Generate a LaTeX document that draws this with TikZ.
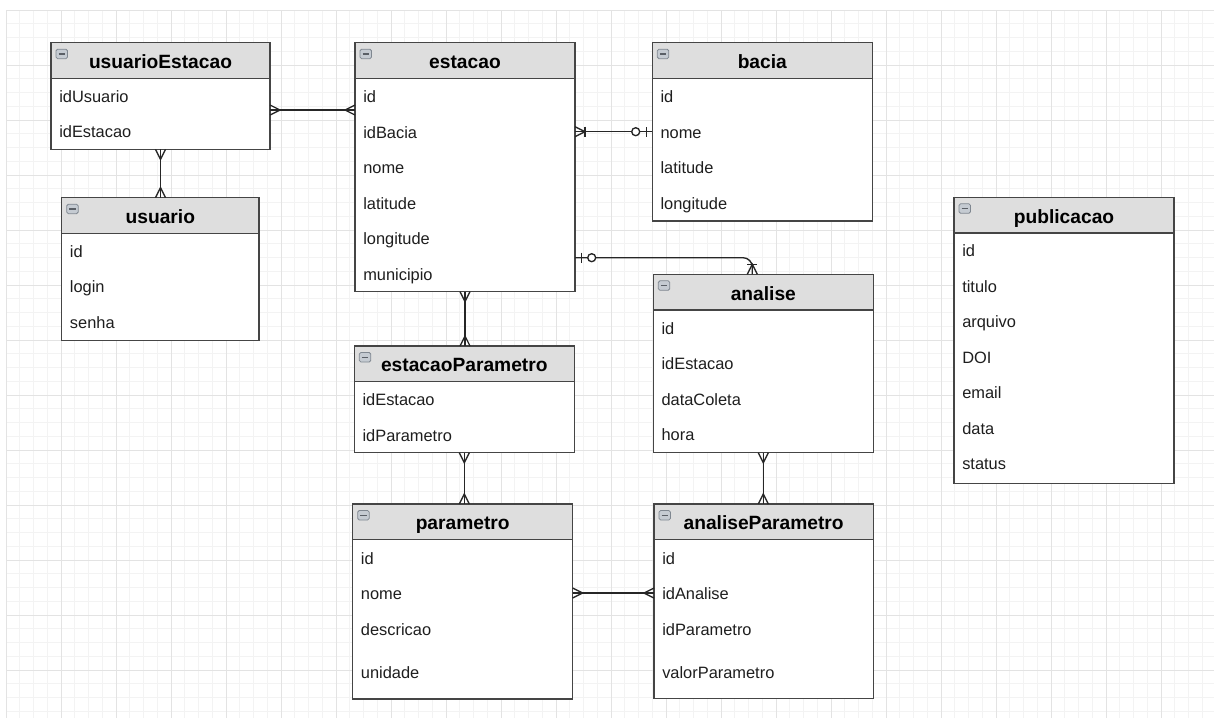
\documentclass[tikz,border=0pt]{standalone}
\usepackage{fontspec}
\setmainfont{Liberation Sans}
\usetikzlibrary{calc}
\definecolor{gridminor}{HTML}{F3F3F3}
\definecolor{gridmajor}{HTML}{E3E3E3}
\definecolor{hdr}{HTML}{DEDEDE}
\definecolor{bord}{HTML}{454545}
\definecolor{iconfill}{HTML}{C5CBD2}
\definecolor{icondraw}{HTML}{7F8790}
\definecolor{iconminus}{HTML}{5A5F66}
\definecolor{txt}{HTML}{1E1E1E}
\definecolor{connc}{HTML}{262626}
\tikzset{
 tblbody/.style={draw=none, fill=white, inner sep=0pt, outer sep=0pt},
 border/.style={draw=bord, line width=1.1pt},
 iconbox/.style={draw=icondraw, fill=iconfill, line width=0.6pt, rounded corners=1.2pt},
 ttl/.style={font=\fontsize{14.4pt}{16pt}\selectfont\bfseries, text=black, inner sep=0pt},
 rowtxt/.style={font=\fontsize{12.3pt}{14pt}\selectfont, text=txt, inner sep=0pt},
 conn/.style={draw=connc, line width=1pt},
 pics/crow/.style={code={\draw[conn] (0,-5) -- (10,0) -- (0,5);}},
 pics/bar/.style={code={\draw[conn] (#1,-5) -- (#1,5);}},
 pics/circ/.style={code={\draw[conn, fill=white] (#1,0) circle (4);}},
}
\newcommand\ertab[6]{%
 \node[tblbody, anchor=north west, minimum width=#4*0.75pt, minimum height=#5*0.75pt] (#1) at (#2,#3) {};
 \fill[hdr] (#1.north west) rectangle ($(#1.north east)+(0,35.6)$);
 \draw[border] ($(#1.north west)+(0,35.6)$) -- ($(#1.north east)+(0,35.6)$);
 \draw[border] (#1.north west) rectangle (#1.south east);
 \draw[iconbox] ($(#1.north west)+(5,6.5)$) rectangle ($(#1.north west)+(16.5,16)$);
 \draw[iconminus, line width=0.9pt] ($(#1.north west)+(7.5,11.2)$) -- ($(#1.north west)+(14,11.2)$);
 \node[ttl, anchor=base] (#1-t) at ($(#1.north)+(0,25.7)$) {#6};
}
\newcommand\errow[4]{\node[rowtxt, anchor=base west] (#1-#2) at ($(#1.north west)+(8,#3)$) {#4};}
\begin{document}
\begin{tikzpicture}[x=0.75pt, y=-0.75pt]
\useasboundingbox (0,0) rectangle (1214,718);
\fill[white] (0,0) rectangle (1214,718);
% grid
\foreach \i in {0,...,87} {\draw[gridminor, line width=0.75pt] ({6+13.75*\i},10) -- ({6+13.75*\i},718);}
\foreach \j in {0,...,51} {\draw[gridminor, line width=0.75pt] (6,{10+13.75*\j}) -- (1214,{10+13.75*\j});}
\foreach \i in {0,...,21} {\draw[gridmajor, line width=0.75pt] ({6+55*\i},10) -- ({6+55*\i},718);}
\foreach \j in {0,...,12} {\draw[gridmajor, line width=0.75pt] (6,{10+55*\j}) -- (1214,{10+55*\j});}

% tables
\ertab{ue}{51}{42.7}{219}{106.6}{usuarioEstacao}
\errow{ue}{1}{60}{idUsuario}
\errow{ue}{2}{94.6}{idEstacao}

\ertab{est}{355}{42.7}{220}{249}{estacao}
\errow{est}{1}{60}{id}
\errow{est}{2}{95.5}{idBacia}
\errow{est}{3}{131}{nome}
\errow{est}{4}{166.5}{latitude}
\errow{est}{5}{202}{longitude}
\errow{est}{6}{237.5}{municipio}

\ertab{bac}{652.3}{42.7}{220}{178.3}{bacia}
\errow{bac}{1}{60}{id}
\errow{bac}{2}{95.5}{nome}
\errow{bac}{3}{131}{latitude}
\errow{bac}{4}{166.5}{longitude}

\ertab{usu}{61.7}{197.7}{197.3}{143}{usuario}
\errow{usu}{1}{59.3}{id}
\errow{usu}{2}{94.8}{login}
\errow{usu}{3}{130.3}{senha}

\ertab{ana}{653.3}{274.3}{220}{178.4}{analise}
\errow{ana}{1}{60}{id}
\errow{ana}{2}{95.5}{idEstacao}
\errow{ana}{3}{131}{dataColeta}
\errow{ana}{4}{166.5}{hora}

\ertab{ep}{354.3}{346}{220}{106.7}{estacaoParametro}
\errow{ep}{1}{59.5}{idEstacao}
\errow{ep}{2}{95}{idParametro}

\ertab{par}{352.7}{504}{220}{195}{parametro}
\errow{par}{1}{60}{id}
\errow{par}{2}{95.5}{nome}
\errow{par}{3}{131}{descricao}
\errow{par}{4}{174.3}{unidade}

\ertab{ap}{654}{504}{219.3}{194.3}{analiseParametro}
\errow{ap}{1}{60}{id}
\errow{ap}{2}{95.5}{idAnalise}
\errow{ap}{3}{131}{idParametro}
\errow{ap}{4}{174.3}{valorParametro}

\ertab{pub}{954}{197.3}{220}{286}{publicacao}
\errow{pub}{1}{59.5}{id}
\errow{pub}{2}{95}{titulo}
\errow{pub}{3}{130.5}{arquivo}
\errow{pub}{4}{166}{DOI}
\errow{pub}{5}{201.5}{email}
\errow{pub}{6}{237}{data}
\errow{pub}{7}{272.5}{status}

% connector levels
\coordinate (ya) at (0,110);
\coordinate (yb) at (0,131.7);
\coordinate (yc) at (0,257.7);
\coordinate (xc) at (752.3,0);
\coordinate (yd) at (0,593);

% usuarioEstacao -- estacao
\draw[conn] (ue.east |- ya) coordinate (e1a) -- (est.west |- ya) coordinate (e1b);
\pic at (e1a) {crow};
\pic[rotate=180] at (e1b) {crow};

% usuarioEstacao -- usuario
\draw[conn] (ue.south) coordinate (e2a) -- (ue.south |- usu.north) coordinate (e2b);
\pic[rotate=-90] at (e2a) {crow};
\pic[rotate=90] at (e2b) {crow};

% estacao -- bacia
\draw[conn] (est.east |- yb) coordinate (e3a) -- (bac.west |- yb) coordinate (e3b);
\pic at (e3a) {crow};
\pic at (e3a) {bar=10};
\pic[rotate=180] at (e3b) {bar=5.6};
\pic[rotate=180] at (e3b) {circ=16.6};

% estacao -- analise
\draw[conn, rounded corners=7pt] (est.east |- yc) coordinate (e4a) -| (xc |- ana.north) coordinate (e4b);
\pic at (e4a) {bar=6.7};
\pic at (e4a) {circ=16.7};
\pic[rotate=90] at (e4b) {crow};
\pic[rotate=90] at (e4b) {bar=10};

% estacao -- estacaoParametro
\draw[conn] (est.south) coordinate (e5a) -- (est.south |- ep.north) coordinate (e5b);
\pic[rotate=-90] at (e5a) {crow};
\pic[rotate=90] at (e5b) {crow};

% estacaoParametro -- parametro
\draw[conn] (ep.south) coordinate (e6a) -- (ep.south |- par.north) coordinate (e6b);
\pic[rotate=-90] at (e6a) {crow};
\pic[rotate=90] at (e6b) {crow};

% analise -- analiseParametro
\draw[conn] (ana.south) coordinate (e7a) -- (ana.south |- ap.north) coordinate (e7b);
\pic[rotate=-90] at (e7a) {crow};
\pic[rotate=90] at (e7b) {crow};

% parametro -- analiseParametro
\draw[conn] (par.east |- yd) coordinate (e8a) -- (ap.west |- yd) coordinate (e8b);
\pic at (e8a) {crow};
\pic[rotate=180] at (e8b) {crow};
\end{tikzpicture}
\end{document}
